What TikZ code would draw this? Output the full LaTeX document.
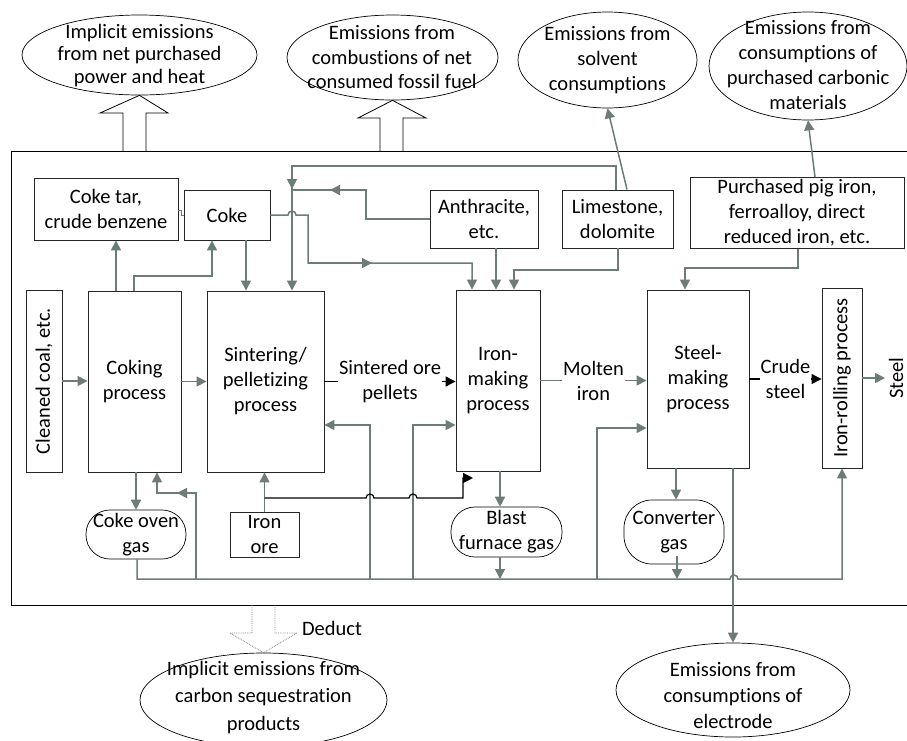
\documentclass[tikz,border=0pt]{standalone}
\usepackage{fontspec}
\setmainfont{Carlito}[Ligatures=NoCommon]
\usetikzlibrary{arrows.meta,shapes.geometric,calc}
\definecolor{gcol}{RGB}{110,124,118}
\begin{document}
\begin{tikzpicture}[x=1pt,y=-1pt,
  txt/.style={font=\fontsize{20.5}{25}\selectfont, align=center, inner sep=0pt, text=black},
  box/.style={draw=black!85, line width=0.9pt, txt, inner sep=2pt},
  ell/.style={ellipse, draw=black, line width=0.7pt, inner sep=0pt},
  gasbox/.style={draw=black, line width=0.7pt, txt},
  gl/.style={draw=gcol, line width=1.5pt},
  ga/.style={gl, -{Triangle[length=10pt,width=10pt]}},
  bl/.style={draw=black, line width=1.2pt},
  ba/.style={bl, -{Triangle[length=10pt,width=10pt]}},
  hol/.style={draw=black, line width=0.8pt, line join=miter}
]
\useasboundingbox (0,0) rectangle (907,740);
\fill[white] (0,0) rectangle (907,740);

% outer frame
\draw[line width=0.9pt] (909,151) -- (11,151) -- (11,605) -- (909,605);

% ellipses
\node[ell, minimum width=235pt, minimum height=80pt] (e1) at (139.5,55) {};
\node[txt, font=\fontsize{20.5}{22.5}\selectfont] (t1) at (139.5,55.5) {Implicit emissions\\from net purchased\\power and heat};
\node[ell, minimum width=211pt, minimum height=85pt] (e2) at (392.5,57.5) {};
\node[txt, font=\fontsize{20.5}{24.5}\selectfont] (t2) at (392,57.5) {Emissions from\\combustions of net\\consumed fossil fuel};
\node[ell, minimum width=179pt, minimum height=96pt] (e3) at (607.5,60) {};
\node[txt] (t3) at (607.5,60) {Emissions from\\solvent\\consumptions};
\node[ell, minimum width=198pt, minimum height=108pt] (e4) at (808,66) {};
\node[txt] (t4) at (808,65.5) {Emissions from\\consumptions of\\purchased carbonic\\materials};
\node[ell, minimum width=234pt, minimum height=94pt] (e5) at (733,690) {};
\node[txt, font=\fontsize{20.5}{26}\selectfont] (t5) at (733,696) {Emissions from\\consumptions of\\electrode};
\node[ell, minimum width=247pt, minimum height=94pt] (e6) at (263.5,700) {};
\node[txt, font=\fontsize{20.5}{27.5}\selectfont] (t6) at (263.5,697.5) {Implicit emissions from\\carbon sequestration\\products};

% hollow arrows
\draw[hol] (123,151) -- (123,113) -- (100,113) -- (e1.south) -- (168,113) -- (146,113) -- (146,151);
\draw[hol] (380,151) -- (380,118) -- (358,118) -- (e2.south) -- (426,118) -- (403,118) -- (403,151);
\draw[hol, draw=gray, densely dotted] (252,605) -- (252,633) -- (230,633) -- (e6.north) -- (297,633) -- (275,633) -- (275,605);
\node[txt] (ded) at (332,628) {Deduct};

% upper boxes
\node[box, minimum width=144pt, minimum height=62pt] (tar) at (106,209) {Coke tar,\\crude benzene};
\node[box, minimum width=86pt, minimum height=50pt] (coke) at (227,215) {Coke};
\node[box, minimum width=108pt, minimum height=58pt] (anth) at (484,219) {Anthracite,\\etc.};
\node[box, minimum width=111pt, minimum height=58pt] (lime) at (617.5,219) {Limestone,\\dolomite};
\node[box, minimum width=214pt, minimum height=70pt] (purch) at (797,213) {Purchased pig iron,\\ferroalloy, direct\\reduced iron, etc.};

% process boxes
\node[box, rotate=90, minimum width=182pt, minimum height=36pt] (clean) at (44,381) {Cleaned coal, etc.};
\node[box, minimum width=93pt, minimum height=181pt] (coking) at (134.5,381.5) {Coking\\process};
\node[box, minimum width=117pt, minimum height=181pt] (sinter) at (265.5,381.5) {Sintering/\\pelletizing\\process};
\node[box, minimum width=84pt, minimum height=181pt] (ironmk) at (498,380.5) {Iron-\\making\\process};
\node[box, minimum width=102pt, minimum height=178pt] (steelmk) at (698,379) {Steel-\\making\\process};
\node[box, rotate=90, minimum width=180pt, minimum height=40pt] (rolling) at (842,378) {Iron-rolling process};
\node[txt, rotate=90] (steel) at (896,378) {Steel};

% lower boxes
\node[gasbox, rounded corners=24pt, minimum width=100pt, minimum height=49pt] (cog) at (136,534.5) {Coke oven\\gas};
\node[box, minimum width=69pt, minimum height=45pt] (ore) at (264.5,534.5) {Iron\\ore};
\node[gasbox, rounded corners=24pt, minimum width=111pt, minimum height=50pt] (bfg) at (506.5,532) {Blast\\furnace gas};
\node[gasbox, rounded corners=28pt, minimum width=100pt, minimum height=64pt] (cvg) at (674,532) {Converter\\gas};

% emission arrows
\draw[ga] (lime.north -| 627,0) -- (e3.south);
\draw[ga] (purch.north -| 815,0) -- (e4.south);
\draw[ga] (steelmk.south -| e5.north) -- (e5.north);

% top connectors
\draw[gl, line width=1pt] (tar.east |- 0,210) -- (181,210) -- (181,215) -- (coke.west);
\draw[ga] (coking.north -| 116,0) -- (tar.south -| 116,0);
\draw[ga] (coking.north -| 134,0) |- (212,276) -- (coke.south -| 212,0);
\draw[ga] (coke.south -| 246,0) -- (sinter.north -| 246,0);
\draw[ga] (coke.east) -- (288,215) arc (180:0:4pt) -- (308,215) -- (308,263) -- (472,263) -- (ironmk.north -| 472,0);
\draw[ga] (308,263) -- (372,263);
\draw[ga] (lime.north -| 616,0) |- (292,166) -- (sinter.north -| 292,0);
\draw[ga] (292,166) -- (292,189);
\draw[gl] (anth.west) -| (366,190) -- (292,190);
\draw[ga] (366,190) -- (330,190);
\draw[ga] (anth.south -| 496,0) -- (ironmk.north -| 496,0);
\draw[ga] (lime.south -| 618,0) |- (514,270) -- (ironmk.north -| 514,0);
\draw[ga] (purch.south -| 798,0) |- (685,268) -- (steelmk.north -| 685,0);

% main flow
\draw[ga] (clean.south) -- (clean.south -| coking.west);
\draw[ga] (coking.east) -- (coking.east -| sinter.west);
\draw[ba] (sinter.east) -- (ironmk.west |- sinter.east) node[midway, txt, fill=white, inner sep=1pt] (sop) {Sintered ore\\pellets};
\draw[ga] (ironmk.east) -- (steelmk.west |- ironmk.east) node[midway, txt, fill=white, inner sep=1pt] (mi) {Molten\\iron};
\draw[ba] (steelmk.east) -- (rolling.north |- steelmk.east) node[midway, txt, fill=white, inner sep=1pt] (cs) {Crude\\steel};
\draw[ga] (rolling.south) -- (885,378);

% lower connectors
\draw[ga] (coking.south -| 136,0) -- (cog.north -| 136,0);
\draw[ga] (196,579) |- (157,493) -- (coking.south -| 157,0);
\draw[ga] (196,493) -- (177,493);
\draw[ga] (cog.south -| 137,0) -- (137,579) -- (730,579) arc (180:0:4pt) -- (842,579) -- (rolling.west);
\draw[ga] (370,579) |- (sinter.east |- 0,425);
\draw[ga] (413,579) |- (ironmk.west |- 0,425);
\draw[ga] (ore.north) -- (sinter.south -| ore.north);
\draw[ba] (ore.north |- 0,498) -- (366,498) arc (180:0:4pt) -- (409,498) arc (180:0:4pt) -- (463,498) -- (463,478) -- (473,478);
\draw[ga] (ironmk.south -| 500,0) -- (bfg.north -| 500,0);
\draw[ga] (bfg.south -| 500,0) -- (500,579);
\draw[ga] (597,579) |- (steelmk.west |- 0,428);
\draw[ga] (steelmk.south -| 676,0) -- (cvg.north -| 676,0);
\draw[ga] (677,556) -- (677,579);
\end{tikzpicture}
\end{document}
